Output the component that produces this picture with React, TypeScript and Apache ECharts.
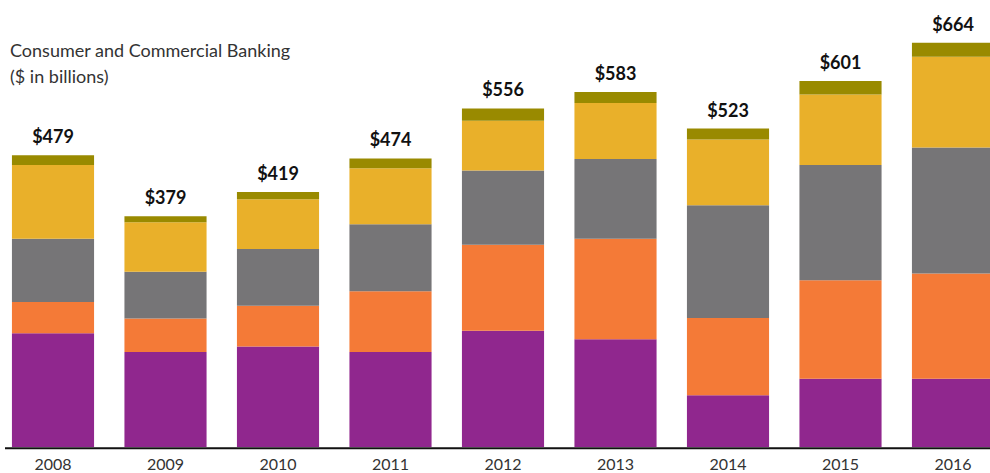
import React, { useEffect, useRef } from "react";
import * as echarts from "echarts";

const years = ["2008", "2009", "2010", "2011", "2012", "2013", "2014", "2015", "2016"];
const totals = [479, 379, 419, 474, 556, 583, 523, 601, 664];
const purple = [187, 156, 165, 156, 191, 177, 85, 112, 112];
const orange = [51, 55, 67, 100, 141, 165, 127, 162, 173];
const gray = [104, 77, 93, 110, 122, 131, 185, 189, 207];
const yellow = [121, 81, 82, 92, 82, 92, 108, 116, 149];
const olive = [16, 10, 12, 16, 20, 18, 18, 22, 23];

const seriesData = [
  { name: "purple", data: purple, color: "#90278E" },
  { name: "orange", data: orange, color: "#F47A37" },
  { name: "gray", data: gray, color: "#767577" },
  { name: "yellow", data: yellow, color: "#E9B02A" },
  { name: "olive", data: olive, color: "#998A00" },
];

const OFF = 20;

export default function App() {
  const ref = useRef<HTMLDivElement>(null);
  useEffect(() => {
    if (!ref.current) return;
    const chart = echarts.init(ref.current, null, { renderer: "svg" });
    const font = "Lato, 'Open Sans', sans-serif";
    chart.setOption({
      animation: false,
      backgroundColor: "#ffffff",
      grid: { left: OFF - 3.25, width: 1012.5, top: 20.8, bottom: 26, containLabel: false },
      xAxis: {
        type: "category",
        data: years,
        axisLine: { show: false },
        axisTick: { show: false },
        axisLabel: { color: "#333", fontSize: 16, fontFamily: font, margin: 8 },
      },
      yAxis: { type: "value", min: 0, max: 700, show: false, splitLine: { show: false } },
      graphic: [
        {
          type: "line",
          shape: { x1: OFF + 5, y1: 448.3, x2: OFF + 990, y2: 448.3 },
          style: { stroke: "#111", lineWidth: 2 },
        },
        {
          type: "text",
          left: OFF + 10,
          top: 37,
          style: {
            text: "Consumer and Commercial Banking\n($ in billions)",
            fill: "#333",
            font: `18px ${font}`,
            lineHeight: 26,
          },
        },
      ],
      series: seriesData.map((s, i) => ({
        name: s.name,
        type: "bar",
        stack: "total",
        barCategoryGap: "27%",
        data: s.data,
        itemStyle: { color: s.color },
        label:
          i === seriesData.length - 1
            ? {
                show: true,
                position: "top",
                distance: 10,
                formatter: (p: any) => "$" + totals[p.dataIndex],
                color: "#111",
                fontSize: 18,
                fontWeight: "bold",
                fontFamily: font,
              }
            : { show: false },
      })),
    });
    return () => chart.dispose();
  }, []);
  return (
    <div style={{ position: "fixed", left: 0, top: 0, width: 990, height: 473, overflow: "hidden" }}>
      <div
        ref={ref}
        style={{ position: "absolute", left: -OFF, top: 0, width: 1040, height: 473 }}
      />
    </div>
  );
}
